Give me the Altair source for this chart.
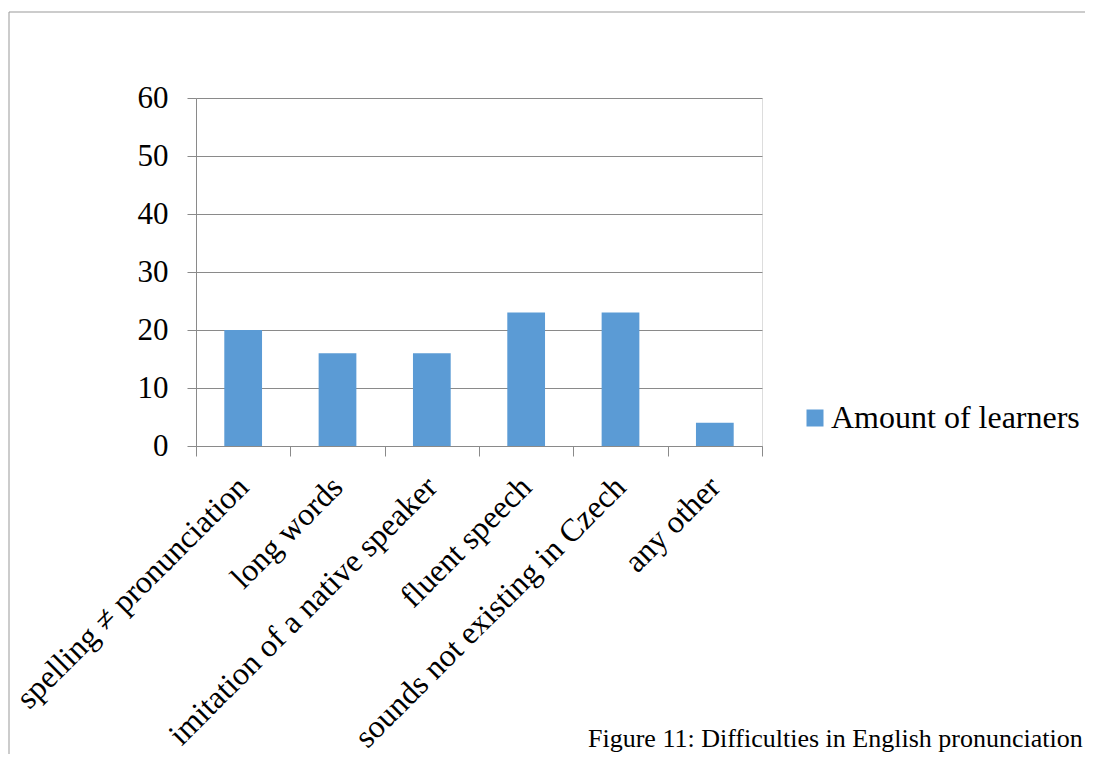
import altair as alt
import pandas as pd

categories = ["spelling ≠ pronunciation", "long words", "imitation of a native speaker",
              "fluent speech", "sounds not existing in Czech", "any other"]
values = [20, 16, 16, 23, 23, 4]
series_name = "Amount of learners"
y_ticks = [0, 10, 20, 30, 40, 50, 60]
caption = "Figure 11: Difficulties in English pronunciation"

df = pd.DataFrame({"category": categories, "value": values, "series": [series_name] * len(categories)})

FONT = "Liberation Serif"
GRID = "#8a8a8a"

bars = alt.Chart(df).mark_bar(color="#5B9BD5", width=alt.RelativeBandSize(0.4)).encode(
    x=alt.X("category:N", sort=categories,
            scale=alt.Scale(paddingInner=0, paddingOuter=0),
            axis=alt.Axis(title=None, labelAngle=-45, labelFont=FONT, labelFontSize=32,
                          labelColor="black", tickBand="extent", tickSize=10,
                          tickColor=GRID, domainColor=GRID, labelPadding=15, labelOffset=-11,
                          grid=False, labelLimit=1000)),
    y=alt.Y("value:Q", scale=alt.Scale(domain=[0, 60], nice=False),
            axis=alt.Axis(title=None, values=y_ticks, labelFont=FONT, labelFontSize=31,
                          labelColor="black", tickSize=9, tickColor=GRID,
                          domainColor=GRID, gridColor=GRID, labelPadding=19)),
    color=alt.Color("series:N", scale=alt.Scale(range=["#5B9BD5"]),
                    legend=alt.Legend(title=None, orient="none", legendX=603, legendY=304,
                                      padding=0, labelOffset=0,
                                      labelFont=FONT, labelFontSize=32, labelColor="black",
                                      symbolType="square", symbolSize=289,
                                      symbolStrokeWidth=0, labelLimit=1000)),
)

cap_df = pd.DataFrame({"t": [caption]})
cap = alt.Chart(cap_df).mark_text(font=FONT, fontSize=26, align="left", baseline="alphabetic",
                                  color="black").encode(
    text="t:N", x=alt.value(392), y=alt.value(649))

frame_top = alt.Chart(cap_df).mark_rule(color="#999999", strokeWidth=1).encode(
    x=alt.value(-187), x2=alt.value(1200), y=alt.value(-86))
frame_left = alt.Chart(cap_df).mark_rule(color="#999999", strokeWidth=1).encode(
    x=alt.value(-187), y=alt.value(-86), y2=alt.value(800))

chart = alt.layer(frame_top, frame_left, bars, cap).properties(
    width=566, height=348,
    autosize=alt.AutoSizeParams(type="none"),
    padding={"left": 188, "top": 90, "right": 323, "bottom": 308},
).configure_view(stroke=None).configure(background="white")

chart.save("out.html", embed_options={"renderer": "svg", "actions": False})
